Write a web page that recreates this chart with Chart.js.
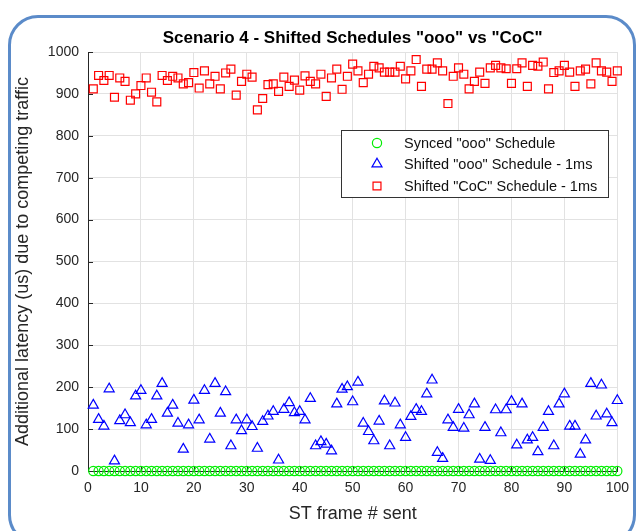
<!DOCTYPE html>
<html>
<head>
<meta charset="utf-8">
<script src="https://cdn.jsdelivr.net/npm/chart.js"></script>
<style>
html, body { margin: 0; padding: 0; background: #fff; }
#wrap { position: relative; width: 638px; height: 531px; overflow: hidden; }
#c { position: absolute; left: 0; top: 0; }
#frame { position: absolute; left: 8px; top: 15px; width: 628px; height: 530px; box-sizing: border-box;
         border: 3px solid #5b8bc9; border-radius: 30px; pointer-events: none; }
</style>
</head>
<body>
<div id="wrap">
  <canvas id="c" width="638" height="531"></canvas>
  <div id="frame"></div>
</div>
<script>
// frame numbers on the x axis
var frames = [1,2,3,4,5,6,7,8,9,10,11,12,13,14,15,16,17,18,19,20,
  21,22,23,24,25,26,27,28,29,30,31,32,33,34,35,36,37,38,39,40,
  41,42,43,44,45,46,47,48,49,50,51,52,53,54,55,56,57,58,59,60,
  61,62,63,64,65,66,67,68,69,70,71,72,73,74,75,76,77,78,79,80,
  81,82,83,84,85,86,87,88,89,90,91,92,93,94,95,96,97,98,99,100];

// Synced "ooo" schedule: no extra latency
var synced = [0,0,0,0,0,0,0,0,0,0,0,0,0,0,0,0,0,0,0,0,
  0,0,0,0,0,0,0,0,0,0,0,0,0,0,0,0,0,0,0,0,
  0,0,0,0,0,0,0,0,0,0,0,0,0,0,0,0,0,0,0,0,
  0,0,0,0,0,0,0,0,0,0,0,0,0,0,0,0,0,0,0,0,
  0,0,0,0,0,0,0,0,0,0,0,0,0,0,0,0,0,0,0,0];

// Shifted "ooo" schedule - 1ms
var shiftedOoo = [157,123,107,196,24,120,134,115,179,192,
  110,123,179,209,138,157,114,52,110,169,
  122,192,76,209,138,189,60,122,96,122,
  106,54,118,131,142,26,147,163,139,142,
  122,173,60,70,64,48,160,195,201,165,
  212,114,94,72,119,167,60,162,110,80,
  130,147,142,184,217,44,30,122,104,147,
  102,134,160,28,104,25,146,91,146,166,
  62,160,74,80,46,104,142,60,160,184,
  107,107,40,74,209,131,205,136,115,168];

// Shifted "CoC" schedule - 1ms
var shiftedCoc = [912,944,932,944,892,938,930,885,900,920,
  938,904,881,944,932,942,938,924,927,951,
  914,955,924,942,912,950,959,897,930,947,
  940,862,889,922,924,906,940,918,933,909,
  943,930,924,947,894,938,959,911,942,971,
  955,927,947,966,962,952,952,952,966,936,
  955,982,918,959,959,974,955,877,942,962,
  947,912,930,952,925,962,968,962,960,925,
  960,974,918,968,966,976,912,951,955,968,
  952,918,955,959,924,974,955,952,930,955];

var yTicks = [0,100,200,300,400,500,600,700,800,900,1000];
var xTicks = [0,10,20,30,40,50,60,70,80,90,100];

function pts(ys){
  var out = [];
  for (var i = 0; i < frames.length; i++) out.push({x: frames[i], y: ys[i]});
  return out;
}

var FONT = '"Liberation Sans", Arial, Helvetica, sans-serif';
var INK = '#262626';

// title, legend box and inward ticks, MATLAB style
var extras = {
  id: 'extras',
  beforeDatasetsDraw: function(chart){
    var ctx = chart.ctx, a = chart.chartArea;
    var xs = chart.scales.x, ys = chart.scales.y;
    ctx.save();
    ctx.strokeStyle = INK;
    ctx.lineWidth = 1;
    ctx.beginPath();
    yTicks.forEach(function(v){
      var y = Math.round(ys.getPixelForValue(v)) + 0.5;
      ctx.moveTo(a.left, y); ctx.lineTo(a.left + 5, y);
    });
    xTicks.forEach(function(v){
      var x = Math.round(xs.getPixelForValue(v)) + 0.5;
      ctx.moveTo(x, a.bottom); ctx.lineTo(x, a.bottom - 5);
    });
    ctx.stroke();
    ctx.restore();
  },
  afterDraw: function(chart){
    var ctx = chart.ctx, a = chart.chartArea;
    ctx.save();
    ctx.fillStyle = '#000';
    ctx.font = 'bold 17px ' + FONT;
    ctx.textAlign = 'center';
    ctx.textBaseline = 'middle';
    ctx.fillText('Scenario 4 - Shifted Schedules "ooo" vs "CoC"', (a.left + a.right) / 2, 38);

    // legend
    var bx = 341, by = 130, bw = 267, bh = 67;
    ctx.fillStyle = '#fff';
    ctx.fillRect(bx, by, bw, bh);
    ctx.strokeStyle = '#333';
    ctx.lineWidth = 1;
    ctx.strokeRect(bx + 0.5, by + 0.5, bw, bh);
    ctx.font = '14.5px ' + FONT;
    ctx.textAlign = 'left';
    var rowY = [143, 164, 186];
    chart.data.datasets.forEach(function(ds, i){
      ctx.strokeStyle = ds.borderColor;
      ctx.fillStyle = 'rgba(0,0,0,0)';
      ctx.lineWidth = ds.borderWidth;
      Chart.helpers.drawPoint(ctx, {
        pointStyle: ds.pointStyle, radius: ds.pointRadius, borderWidth: ds.borderWidth, rotation: 0
      }, 377, rowY[i]);
      ctx.fillStyle = '#111';
      ctx.fillText(ds.label, 404, rowY[i] + 1);
    });
    ctx.restore();
  }
};

function plain(v){ return String(v); }

var chart = new Chart(document.getElementById('c'), {
  type: 'scatter',
  data: {
    datasets: [
      { label: 'Synced "ooo" Schedule', data: pts(synced), pointStyle: 'circle',
        pointRadius: 4.6, borderColor: '#00ee00', backgroundColor: 'rgba(0,0,0,0)', borderWidth: 1.2, clip: false },
      { label: 'Shifted "ooo" Schedule - 1ms', data: pts(shiftedOoo), pointStyle: 'triangle',
        pointRadius: 5.8, borderColor: '#0000ff', backgroundColor: 'rgba(0,0,0,0)', borderWidth: 1.2, clip: false },
      { label: 'Shifted "CoC" Schedule - 1ms', data: pts(shiftedCoc), pointStyle: 'rect',
        pointRadius: 5.6, borderColor: '#ff0000', backgroundColor: 'rgba(0,0,0,0)', borderWidth: 1.2, clip: false }
    ]
  },
  options: {
    responsive: false,
    animation: false,
    layout: { padding: { top: 52, right: 18, left: 0, bottom: 0 } },
    plugins: { legend: { display: false }, title: { display: false }, tooltip: { enabled: false } },
    scales: {
      x: {
        type: 'linear', min: 0, max: 100,
        afterFit: function(s){ s.height = 60; },
        afterBuildTicks: function(s){ s.ticks = xTicks.map(function(v){ return {value: v}; }); },
        ticks: { font: { size: 14, family: FONT }, color: INK, padding: 9, maxRotation: 0, callback: plain },
        grid: { color: '#e2e2e2', drawTicks: false },
        border: { color: INK, width: 1 },
        title: { display: true, text: 'ST frame # sent', color: INK, font: { size: 18, family: FONT },
                 padding: { top: 0, bottom: 6 } }
      },
      y: {
        type: 'linear', min: 0, max: 1000,
        afterFit: function(s){ s.width = 88; },
        afterBuildTicks: function(s){ s.ticks = yTicks.map(function(v){ return {value: v}; }); },
        ticks: { font: { size: 14, family: FONT }, color: INK, padding: 9, callback: plain },
        grid: { color: '#e2e2e2', drawTicks: false },
        border: { color: INK, width: 1 },
        title: { display: true, text: 'Additional latency (us) due to competing traffic', color: INK,
                 font: { size: 18, family: FONT }, padding: { top: 12, bottom: 0 } }
      }
    }
  },
  plugins: [extras]
});
</script>
</body>
</html>
